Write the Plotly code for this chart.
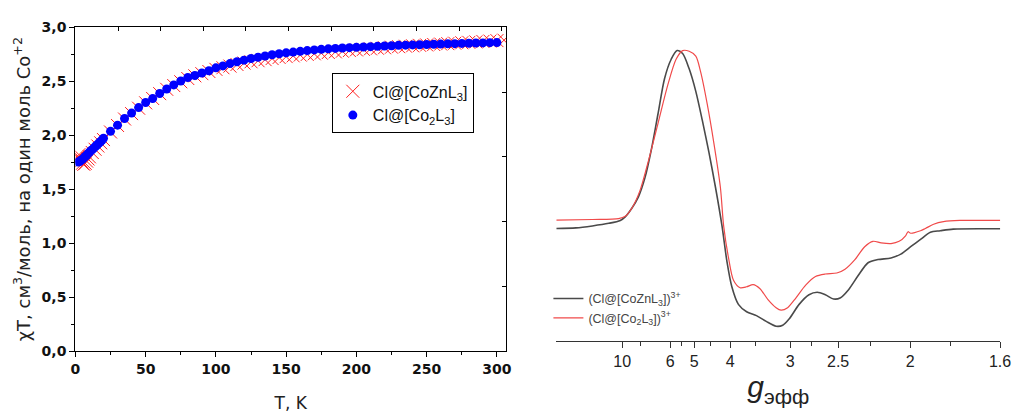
import plotly.graph_objects as go

# ---------------- Left panel data: chi*T vs T ----------------
T_co2 = [2, 3, 4, 5, 6, 7, 8, 9, 10, 11, 12, 13, 14, 15, 16, 17, 18, 19, 20,
         25, 30, 35, 40, 45, 50, 55, 60, 65, 70, 75, 80, 85, 90, 95, 100,
         105, 110, 115, 120, 125, 130, 135, 140, 145, 150, 155, 160, 165, 170,
         175, 180, 185, 190, 195, 200, 205, 210, 215, 220, 225, 230, 235, 240,
         245, 250, 255, 260, 265, 270, 275, 280, 285, 290, 295, 300]
chiT_co2 = [1.752, 1.756, 1.768, 1.776, 1.79, 1.803, 1.815, 1.83, 1.842, 1.856, 1.866,
            1.88, 1.892, 1.905, 1.917, 1.93, 1.942, 1.956, 1.972,
            2.036, 2.093, 2.155, 2.205, 2.256, 2.303, 2.339, 2.386, 2.428, 2.466,
            2.502, 2.535, 2.553, 2.576, 2.597, 2.624, 2.642, 2.663, 2.68, 2.695,
            2.71, 2.722, 2.734, 2.745, 2.754, 2.763, 2.77, 2.777, 2.784, 2.79,
            2.795, 2.8, 2.804, 2.808, 2.811, 2.814, 2.817, 2.82, 2.823, 2.826,
            2.829, 2.832, 2.834, 2.836, 2.838, 2.84, 2.842, 2.844, 2.846, 2.848,
            2.85, 2.852, 2.854, 2.855, 2.857, 2.858]

T_cozn = [2, 2.5, 3, 4, 5, 6, 7, 8, 9, 10, 12, 14, 16, 18, 20,
          25, 30, 35, 40, 45, 50, 55, 60, 65, 70, 75, 80, 85, 90, 95, 100,
          105, 110, 115, 120, 125, 130, 135, 140, 145, 150, 155, 160, 165, 170,
          175, 180, 185, 190, 195, 200, 205, 210, 215, 220, 225, 230, 235, 240,
          245, 250, 255, 260, 265, 270, 275, 280, 285, 290, 295, 300, 305]
chiT_cozn = [1.80, 1.82, 1.79, 1.76, 1.74, 1.73, 1.74, 1.76, 1.78, 1.80, 1.84, 1.87,
             1.90, 1.93, 1.96,
             2.03, 2.09, 2.15, 2.20, 2.25, 2.30, 2.34, 2.385, 2.425, 2.46, 2.495,
             2.525, 2.55, 2.57, 2.59, 2.61, 2.625, 2.64, 2.655, 2.668, 2.68, 2.69,
             2.70, 2.71, 2.72, 2.728, 2.735, 2.742, 2.748, 2.754, 2.76, 2.766,
             2.772, 2.778, 2.784, 2.79, 2.795, 2.80, 2.805, 2.81, 2.815, 2.82,
             2.824, 2.828, 2.832, 2.836, 2.84, 2.844, 2.848, 2.852, 2.856, 2.86,
             2.864, 2.868, 2.872, 2.876, 2.88]

# ---------------- Right panel data: EPR spectra (x = 1/g_eff, a.u.) ----------------
invg_cozn = [0.0083, 0.0357, 0.0585, 0.0813, 0.0973, 0.1041, 0.1133, 0.1223, 0.1315,
             0.1406, 0.1497, 0.1588, 0.168, 0.1762, 0.1839, 0.193, 0.2022, 0.2112,
             0.2204, 0.2296, 0.2386, 0.2454, 0.2523, 0.2614, 0.2728, 0.2865, 0.3001,
             0.3138, 0.323, 0.3321, 0.3458, 0.3595, 0.3709, 0.3822, 0.3937, 0.4027,
             0.4142, 0.4279, 0.4416, 0.4553, 0.4735, 0.4871, 0.5008, 0.5145, 0.5282,
             0.5419, 0.56, 0.6253]
int_cozn = [116.7, 117.3, 119.3, 122, 125, 128.7, 137.7, 149.3, 169.3,
            199.3, 236, 272.7, 292.7, 301.7, 298.7, 282.7, 259.3, 229.3,
            196, 159.3, 119.3, 82.7, 56, 37.7, 30, 26, 20,
            15, 16, 22.7, 37.7, 47.7, 50.3, 47.7, 43.3, 44.3,
            52.7, 67.7, 81, 84.3, 86, 90, 97.7, 105.3, 112.7,
            114.3, 116, 116.3]

invg_co2 = [0.0083, 0.0585, 0.0949, 0.1041, 0.1133, 0.1246, 0.136, 0.1497, 0.1633,
            0.1748, 0.1839, 0.193, 0.2022, 0.209, 0.2181, 0.2272, 0.2364, 0.2409,
            0.2477, 0.2546, 0.2637, 0.2728, 0.2819, 0.2911, 0.3025, 0.3138, 0.3207,
            0.3298, 0.3412, 0.3549, 0.3685, 0.3822, 0.3982, 0.4096, 0.4233, 0.4369,
            0.4484, 0.4598, 0.4735, 0.4848, 0.494, 0.4971, 0.5008, 0.5145, 0.5213,
            0.5327, 0.5464, 0.5692, 0.6253]
int_co2 = [125.3, 126, 127, 129.3, 137.7, 156, 186, 226, 266,
           292.7, 301.7, 301, 296, 279.3, 246, 206, 159.3, 119.3,
           86, 62.7, 55, 56, 58.3, 54.3, 42.7, 34.3, 31.7,
           34.3, 44.3, 57.7, 66.7, 69.3, 70.3, 74.3, 84.3, 97.7,
           103.3, 101.7, 101, 103.3, 109.3, 113.3, 111.7, 114.3, 116.7,
           121, 123.7, 125, 125]

g_ticks = [10, 6, 5, 4, 3, 2.5, 2, 1.6]
g_minor = [8, 5.5, 4.5, 3.5, 2.75, 2.25, 1.8]
y_ticks_left = [0, 0.5, 1.0, 1.5, 2.0, 2.5, 3.0]
y_ticktext_left = ["0,0", "0,5", "1,0", "1,5", "2,0", "2,5", "3,0"]

W, H = 1027, 414
def fx(px):
    return px / W
def fy(py):
    return 1 - py / H

fig = go.Figure()

fig.add_trace(go.Scatter(
    x=T_cozn, y=chiT_cozn, mode="markers", name="Cl@[CoZnL<sub>3</sub>]",
    marker=dict(symbol="x-thin", size=13, line=dict(color="#ff2020", width=1)),
    xaxis="x", yaxis="y", legend="legend"))
fig.add_trace(go.Scatter(
    x=T_co2, y=chiT_co2, mode="markers", name="Cl@[Co<sub>2</sub>L<sub>3</sub>]",
    marker=dict(symbol="circle", size=9, color="#0000ff"),
    xaxis="x", yaxis="y", legend="legend"))
# invisible trace so overlay axes (top / right inner ticks) are drawn
fig.add_trace(go.Scatter(x=[0], y=[0], mode="markers", marker=dict(opacity=0),
                         showlegend=False, hoverinfo="skip", xaxis="x3", yaxis="y3"))

fig.add_trace(go.Scatter(
    x=invg_cozn, y=int_cozn, mode="lines", name="(Cl@[CoZnL<sub>3</sub>])<sup>3+</sup>",
    line=dict(color="#4a4a4a", width=1.6, shape="spline", smoothing=0.8),
    xaxis="x2", yaxis="y2", legend="legend2"))
fig.add_trace(go.Scatter(
    x=invg_co2, y=int_co2, mode="lines", name="(Cl@[Co<sub>2</sub>L<sub>3</sub>])<sup>3+</sup>",
    line=dict(color="#f04a4a", width=1.2, shape="spline", smoothing=0.8),
    xaxis="x2", yaxis="y2", legend="legend2"))

tick_font = dict(family="DejaVu Sans", size=14, color="#111", weight="bold")

fig.update_layout(
    width=W, height=H, margin=dict(l=0, r=0, t=0, b=0),
    paper_bgcolor="white", plot_bgcolor="white",
    xaxis=dict(domain=[fx(71.5), fx(509)], range=[0, 306.5], anchor="y",
               showline=True, linecolor="black", linewidth=1.3, mirror=True,
               ticks="outside", ticklen=5, tickcolor="black", tickwidth=1.2,
               tickvals=[0, 50, 100, 150, 200, 250, 300], tickfont=tick_font,
               minor=dict(tickvals=[25, 75, 125, 175, 225, 275], ticks="outside",
                          ticklen=3, tickcolor="black"),
               showgrid=False, zeroline=False,
               title=dict(text="T, K", font=dict(family="DejaVu Sans", size=17, color="#222"),
                          standoff=20)),
    yaxis=dict(domain=[fy(357), fy(20)], range=[0, 3.0], anchor="x",
               showline=True, linecolor="black", linewidth=1.3, mirror=True,
               ticks="outside", ticklen=5, tickcolor="black", tickwidth=1.2,
               tickvals=y_ticks_left, ticktext=y_ticktext_left, tickfont=tick_font,
               minor=dict(tickvals=[0.25, 0.75, 1.25, 1.75, 2.25, 2.75], ticks="outside",
                          ticklen=3, tickcolor="black"),
               showgrid=False, zeroline=False,
               title=dict(text="χT, см<sup>3</sup>/моль, на один моль Co<sup>+2</sup>",
                          font=dict(family="DejaVu Sans", size=18, color="#222"),
                          standoff=6)),
    xaxis3=dict(overlaying="x", side="top", anchor="y", range=[0, 306.5],
                tickvals=[30.35 * k for k in range(1, 11)], ticks="inside", ticklen=4,
                tickcolor="black", showticklabels=False, showline=False,
                showgrid=False, zeroline=False),
    yaxis3=dict(overlaying="y", side="right", anchor="x", range=[0, 3.0],
                tickvals=[0.6, 1.2, 1.8, 2.4], ticks="inside", ticklen=4,
                tickcolor="black", showticklabels=False, showline=False,
                showgrid=False, zeroline=False),
    xaxis2=dict(domain=[fx(560), fx(1011)], range=[0.0083, 0.6253], anchor="y2",
                showline=True, linecolor="#333", linewidth=1.3,
                ticks="outside", ticklen=6, tickcolor="#333",
                tickvals=[1 / g for g in g_ticks], ticktext=[str(g) for g in g_ticks],
                tickfont=dict(family="Liberation Sans", size=16, color="#222"),
                minor=dict(tickvals=[1 / g for g in g_minor], ticks="outside",
                           ticklen=4, tickcolor="#333"),
                showgrid=False, zeroline=False,
                title=dict(text="<i>g</i><sub>эфф</sub>",
                           font=dict(family="Liberation Sans", size=30, color="#222"),
                           standoff=7)),
    yaxis2=dict(domain=[fy(346), fy(30)], range=[0, 316], anchor="x2",
                visible=False, showgrid=False, zeroline=False),
    legend=dict(x=fx(332), y=fy(68), xanchor="left", yanchor="top",
                bgcolor="white", bordercolor="black", borderwidth=1,
                font=dict(family="Liberation Sans", size=16, color="#111"),
                tracegroupgap=0, itemsizing="trace"),
    legend2=dict(x=fx(552), y=fy(287), xanchor="left", yanchor="top",
                 bgcolor="rgba(0,0,0,0)", borderwidth=0,
                 font=dict(family="Liberation Sans", size=12.5, color="#444"),
                 tracegroupgap=0, itemwidth=30),
    showlegend=True,
)

fig.write_html("out.html")
